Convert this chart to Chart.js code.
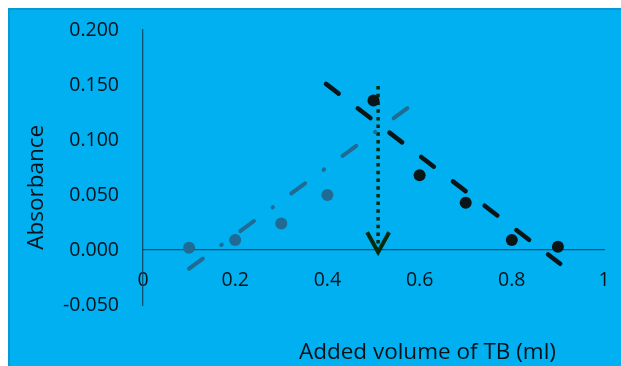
<!DOCTYPE html>
<html>
<head>
<meta charset="utf-8">
<script src="https://cdn.jsdelivr.net/npm/chart.js@4.4.0/dist/chart.umd.min.js"></script>
<style>
  html, body { margin: 0; padding: 0; background: #fff; }
  #wrap {
    position: absolute; left: 8px; top: 8px;
    width: 613px; height: 358px;
    background: #00b0f0;
    box-shadow: inset 2px 2px 0 #0a98d2;
  }
</style>
</head>
<body>
<div id="wrap"><canvas id="grafico" width="613" height="358"></canvas></div>
<script>
// Datos
const volA = [0.1, 0.2, 0.3, 0.4];
const absA = [0.002, 0.009, 0.024, 0.050];
const volB = [0.5, 0.6, 0.7, 0.8, 0.9];
const absB = [0.136, 0.068, 0.043, 0.009, 0.003];

// Lineas de tendencia (extremos)
const trendAx = [0.1, 0.577];
const trendAy = [-0.017, 0.130];
const trendBx = [0.397, 0.905];
const trendBy = [0.151, -0.0125];

// Flecha del punto de equivalencia
const arrowX = [0.51, 0.51];
const arrowY = [0.149, -0.002];

const xTicks = ['0', '0.2', '0.4', '0.6', '0.8', '1'];
const yTicks = ['-0.050', '0.000', '0.050', '0.100', '0.150', '0.200'];

const tituloX = 'Added volume of TB (ml)';
const tituloY = 'Absorbance';

const azul = '#1f6b94';
const negro = '#0b1518';
const verde = '#062a0c';
const texto = '#06121a';
const eje = 'rgba(16,70,96,0.9)';

const puntos = (xs, ys) => xs.map((x, i) => ({ x: x, y: ys[i] }));

// Titulos de ejes y punta de flecha
const extras = {
  id: 'extras',
  afterDatasetsDraw(chart) {
    const { ctx, chartArea, scales: { x, y } } = chart;
    ctx.save();
    // punta de flecha abierta
    const tx = x.getPixelForValue(arrowX[1]);
    const ty = y.getPixelForValue(arrowY[1]);
    ctx.strokeStyle = verde;
    ctx.lineWidth = 4;
    ctx.lineJoin = 'miter';
    ctx.beginPath();
    ctx.moveTo(tx - 11, ty - 20);
    ctx.lineTo(tx, ty);
    ctx.lineTo(tx + 11, ty - 20);
    ctx.stroke();

    ctx.fillStyle = texto;
    ctx.font = '22.5px "Open Sans"';
    ctx.textAlign = 'center';
    ctx.textBaseline = 'middle';
    ctx.fillText(tituloX, x.getPixelForValue(0.617), chartArea.bottom + 48);
    ctx.translate(29, y.getPixelForValue(0.057));
    ctx.rotate(-Math.PI / 2);
    ctx.fillText(tituloY, 0, 0);
    ctx.restore();
  }
};

const ctx = document.getElementById('grafico').getContext('2d');
const chart = new Chart(ctx, {
  type: 'scatter',
  data: {
    datasets: [
      {
        data: puntos(trendAx, trendAy),
        showLine: true,
        borderColor: azul,
        borderWidth: 4,
        borderCapStyle: 'round',
        borderDash: [17, 23, 0.5, 23],
        pointRadius: 0
      },
      {
        data: puntos(volA, absA),
        backgroundColor: azul,
        borderColor: azul,
        pointRadius: 6,
        borderWidth: 0
      },
      {
        data: puntos(trendBx, trendBy),
        showLine: true,
        borderColor: negro,
        borderWidth: 4.5,
        borderCapStyle: 'round',
        borderDash: [16, 24],
        pointRadius: 0
      },
      {
        data: puntos(volB, absB),
        backgroundColor: negro,
        borderColor: negro,
        pointRadius: 6,
        borderWidth: 0
      },
      {
        data: puntos(arrowX, arrowY),
        showLine: true,
        borderColor: verde,
        borderWidth: 3.5,
        borderCapStyle: 'butt',
        borderDash: [3.5, 4.2],
        pointRadius: 0
      }
    ]
  },
  options: {
    responsive: false,
    animation: false,
    layout: { padding: { top: 22, right: 17, bottom: 61, left: 0 } },
    plugins: {
      legend: { display: false },
      tooltip: { enabled: false }
    },
    scales: {
      x: {
        type: 'linear',
        position: { y: 0 },
        min: 0,
        max: 1,
        ticks: {
          stepSize: 0.2,
          padding: 0,
          color: texto,
          font: { family: 'Open Sans', size: 19.5 },
          maxRotation: 0,
          callback: (v, i) => xTicks[i]
        },
        grid: { display: false, drawTicks: true, tickLength: 19 },
        border: { display: true, color: eje, width: 1.3 },
        afterFit: (s) => { s.height = 0; }
      },
      y: {
        min: -0.05,
        max: 0.2,
        ticks: {
          stepSize: 0.05,
          padding: 0,
          color: texto,
          font: { family: 'Open Sans', size: 19.5 },
          callback: (v, i) => yTicks[i]
        },
        grid: { display: false, drawTicks: true, tickLength: 24 },
        border: { display: true, color: eje, width: 1.3 },
        afterFit: (s) => { s.width = 135; }
      }
    }
  },
  plugins: [extras]
});
</script>
</body>
</html>
